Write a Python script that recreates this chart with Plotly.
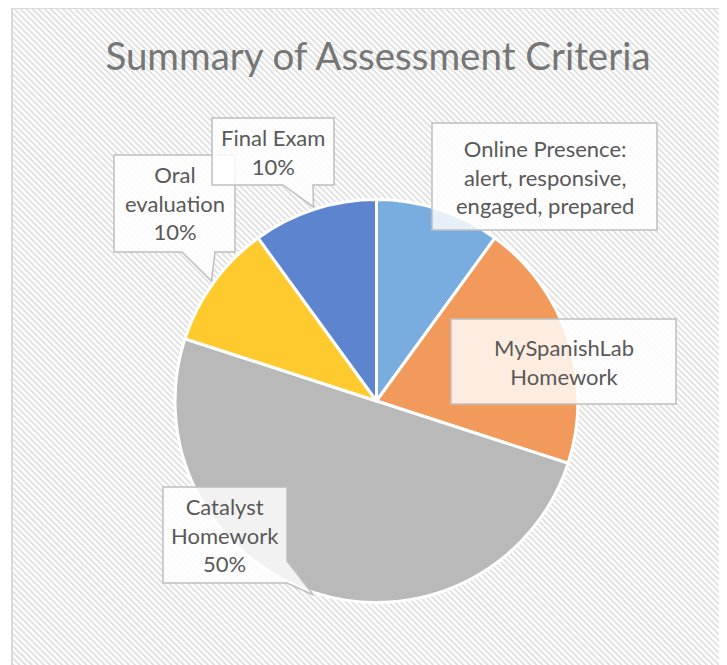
import base64
import math
import plotly.graph_objects as go

# ---------------- data ----------------
categories = ["Online Presence", "MySpanishLab Homework", "Catalyst Homework",
              "Oral evaluation", "Final Exam"]
values = [10, 20, 50, 10, 10]
label_texts = ["Online Presence:<br>alert, responsive,<br>engaged, prepared",
               "MySpanishLab<br>Homework",
               "Catalyst<br>Homework<br>50%",
               "Oral<br>evaluation<br>10%",
               "Final Exam<br>10%"]
colors = ["#79acdf", "#f29a5c", "#b9b9b9", "#ffca2e", "#5d85cf"]

W, H = 727, 665
OFF = 8  # page body margin
CX, CY, R = 376.5, 401.0, 201.5


def px(x):
    return (x - OFF) / W


def py(y):
    return 1 - (y - OFF) / H


fig = go.Figure()
fig.add_trace(go.Pie(
    labels=categories, values=values, sort=False, direction="clockwise",
    rotation=0, textinfo="none", hoverinfo="label+percent",
    marker=dict(colors=colors, line=dict(color="white", width=3)),
    domain=dict(x=[px(CX - R), px(CX + R)], y=[py(CY + R), py(CY - R)]),
    showlegend=False,
))

# background hatch pattern (inside the chart border)
bw, bh = W, H
svg = (f'<svg xmlns="http://www.w3.org/2000/svg" width="{bw}" height="{bh}">'
       '<defs><pattern id="p" width="4.3" height="4.3" patternUnits="userSpaceOnUse" '
       'patternTransform="rotate(-45)"><rect width="4.3" height="4.3" fill="#ffffff"/>'
       '<rect width="1.9" height="4.3" fill="#e0e0e0"/></pattern></defs>'
       '<rect width="100%" height="100%" fill="url(#p)"/></svg>')
src = "data:image/svg+xml;base64," + base64.b64encode(svg.encode()).decode()

shapes = [dict(type="rect", xref="paper", yref="paper", x0=px(12), x1=1.2,
               y0=-0.2, y1=py(8), line=dict(color="#d9d9d9", width=2),
               fillcolor="rgba(0,0,0,0)", layer="below")]

# callout tips from slice mid-angles
total = sum(values)
cum = 0
tips = []
for v in values:
    mid = (cum + v / 2) / total * 2 * math.pi
    cum += v
    tips.append((CX + 204 * math.sin(mid), CY - 204 * math.cos(mid)))

# callout boxes (px): x0, y0, x1, y1, pointer-base points
boxes = [
    (432, 123, 657, 230, None),
    (451, 319, 676, 404, None),
    (163, 487, 287, 583, ((287, 561), (287, 583))),
    (114, 155, 235, 252, ((215, 252), (182, 252))),
    (212, 118, 334, 185, ((313, 185), (283, 185))),
]

annotations = []
for (x0, y0, x1, y1, base), tip, txt in zip(boxes, tips, label_texts):
    pts = [(x0, y0), (x1, y0), (x1, y1), (x0, y1)]
    if base is not None:
        (ax, ay), (bx, by) = base
        if ax == x1:  # on right edge
            pts = [(x0, y0), (x1, y0), (ax, ay), tip, (bx, by), (x0, y1)]
        else:  # on bottom edge
            pts = [(x0, y0), (x1, y0), (x1, y1), (ax, ay), tip, (bx, by), (x0, y1)]
    path = "M " + " L ".join(f"{px(a):.5f},{py(b):.5f}" for a, b in pts) + " Z"
    shapes.append(dict(type="path", xref="paper", yref="paper", path=path,
                       fillcolor="rgba(255,255,255,0.82)",
                       line=dict(color="#bfbfbf", width=1.5), layer="above"))
    annotations.append(dict(x=px((x0 + x1) / 2), y=py((y0 + y1) / 2),
                            xref="paper", yref="paper", text=txt, showarrow=False,
                            font=dict(family="Lato, Carlito, Calibri, sans-serif",
                                      size=22, color="#595959"),
                            xanchor="center", yanchor="middle"))

fig.update_layout(
    width=W, height=H,
    margin=dict(l=0, r=0, t=0, b=0),
    paper_bgcolor="white", plot_bgcolor="rgba(0,0,0,0)",
    title=dict(text="Summary of Assessment Criteria", x=px(378), y=py(57),
               xanchor="center", yanchor="middle",
               font=dict(family="Lato, Carlito, Calibri, sans-serif", size=38.5,
                         color="#767676")),
    images=[dict(source=src, xref="paper", yref="paper", x=px(12), y=py(8),
                 sizex=bw / W, sizey=bh / H, sizing="stretch",
                 xanchor="left", yanchor="top", layer="below")],
    shapes=shapes,
    annotations=annotations,
)

fig.write_html("out.html")
